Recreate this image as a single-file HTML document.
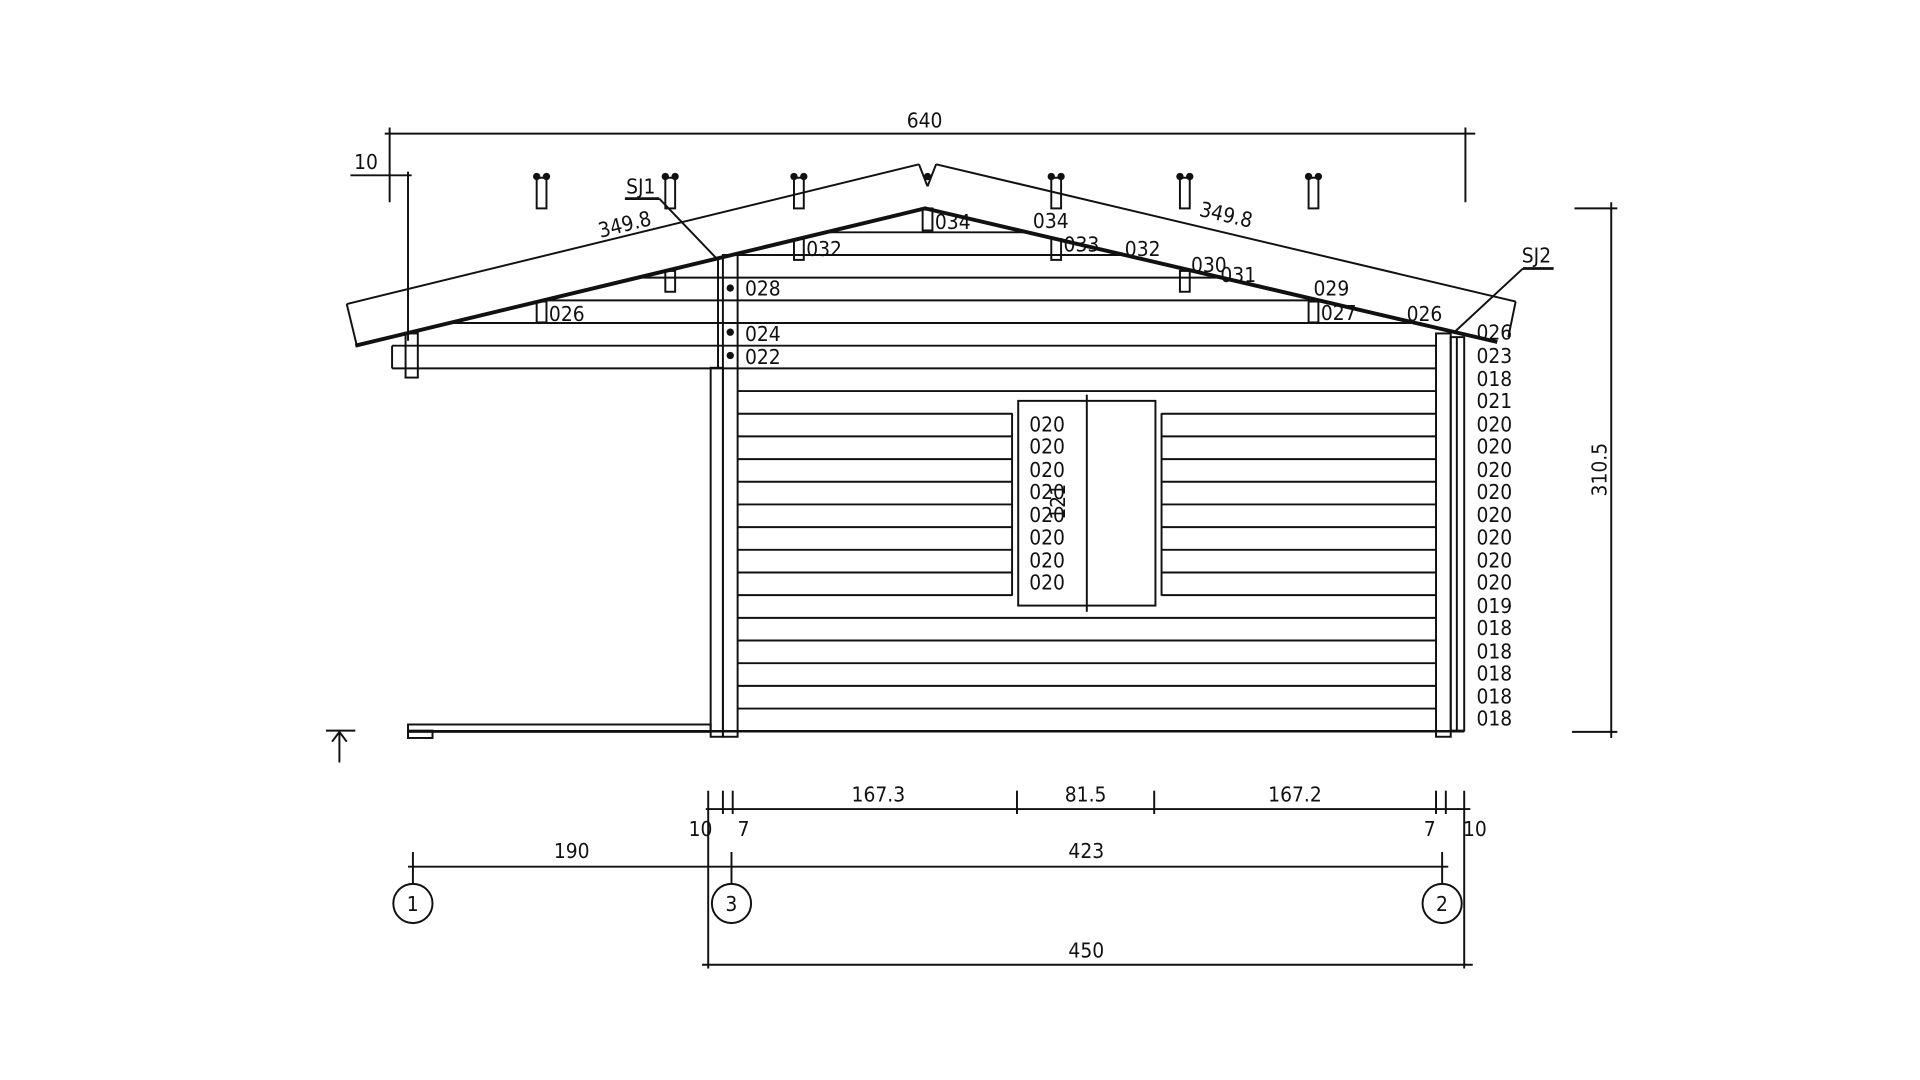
<!DOCTYPE html>
<html><head><meta charset="utf-8"><style>
html,body{margin:0;padding:0;background:#fff;width:1920px;height:1080px;overflow:hidden}
svg{display:block}
text{font-family:"DejaVu Sans Condensed","Liberation Sans Narrow","Liberation Sans",sans-serif;font-size:17px;fill:#111}
</style></head><body>
<svg width="1920" height="1080" viewBox="0 0 1567 881" preserveAspectRatio="none" xmlns="http://www.w3.org/2000/svg">
<g stroke="#111" stroke-width="1.6" fill="none">
<line x1="314" y1="109" x2="1204" y2="109"/>
<line x1="318" y1="104" x2="318" y2="165"/>
<line x1="1196" y1="104" x2="1196" y2="165"/>
<line x1="286" y1="143" x2="336" y2="143"/>
<line x1="333" y1="140" x2="333" y2="278"/>
<polyline points="283,248 750,134"/>
<polyline points="764,134 1237,246"/>
<line x1="750" y1="134" x2="757" y2="152"/><line x1="764" y1="134" x2="757" y2="152"/>
<line x1="283" y1="248" x2="291" y2="281"/>
<line x1="1237" y1="246" x2="1231" y2="275"/>
<polyline points="290,282 755,170 1222,279" stroke-width="3.2"/>
<line x1="755" y1="171" x2="760" y2="171"/>
<line x1="675" y1="189.5" x2="839" y2="189.5"/>
<line x1="597" y1="208" x2="919" y2="208"/>
<line x1="521" y1="226.5" x2="1000" y2="226.5"/>
<line x1="444" y1="245" x2="1080" y2="245"/>
<line x1="367" y1="263.5" x2="1160" y2="263.5"/>
<line x1="320" y1="282" x2="1172" y2="282"/>
<line x1="320" y1="300.5" x2="1172" y2="300.5"/>
<line x1="320" y1="282" x2="320" y2="300.5"/>
<line x1="602" y1="319" x2="1172" y2="319"/>
<g>
<line x1="602" y1="337.5" x2="826" y2="337.5"/><line x1="948" y1="337.5" x2="1172" y2="337.5"/>
<line x1="602" y1="356" x2="826" y2="356"/><line x1="948" y1="356" x2="1172" y2="356"/>
<line x1="602" y1="374.5" x2="826" y2="374.5"/><line x1="948" y1="374.5" x2="1172" y2="374.5"/>
<line x1="602" y1="393" x2="826" y2="393"/><line x1="948" y1="393" x2="1172" y2="393"/>
<line x1="602" y1="411.5" x2="826" y2="411.5"/><line x1="948" y1="411.5" x2="1172" y2="411.5"/>
<line x1="602" y1="430" x2="826" y2="430"/><line x1="948" y1="430" x2="1172" y2="430"/>
<line x1="602" y1="448.5" x2="826" y2="448.5"/><line x1="948" y1="448.5" x2="1172" y2="448.5"/>
<line x1="602" y1="467" x2="826" y2="467"/><line x1="948" y1="467" x2="1172" y2="467"/>
<line x1="602" y1="485.5" x2="826" y2="485.5"/><line x1="948" y1="485.5" x2="1172" y2="485.5"/>
</g>
<line x1="602" y1="504" x2="1172" y2="504"/>
<line x1="602" y1="522.5" x2="1172" y2="522.5"/>
<line x1="602" y1="541" x2="1172" y2="541"/>
<line x1="602" y1="559.5" x2="1172" y2="559.5"/>
<line x1="602" y1="578" x2="1172" y2="578"/>
<line x1="333" y1="596.5" x2="1195" y2="596.5" stroke-width="2"/>
<rect x="831" y="327" width="112" height="167"/>
<line x1="887" y1="322" x2="887" y2="499"/>
<line x1="826" y1="337" x2="826" y2="486"/><line x1="948" y1="337" x2="948" y2="486"/>
<rect x="580" y="300" width="10" height="301"/>
<rect x="590" y="208" width="12" height="393"/>
<line x1="586" y1="211" x2="586" y2="300"/>
<rect x="1172" y="272" width="12" height="329"/>
<rect x="1184" y="275" width="11" height="321"/>
<line x1="1189" y1="275" x2="1189" y2="596"/>
<rect x="333" y="591" width="247" height="6"/>
<rect x="333" y="596" width="20" height="6"/>
<rect x="331" y="272" width="10" height="36"/>
<rect x="438" y="246" width="8" height="17"/>
<rect x="543" y="221" width="8" height="17"/>
<rect x="648" y="195" width="8" height="17"/>
<rect x="753" y="170" width="8" height="18"/>
<rect x="858" y="195" width="8" height="17"/>
<rect x="963" y="221" width="8" height="17"/>
<rect x="1068" y="246" width="8" height="17"/>
<rect x="438" y="145" width="8" height="25"/>
<rect x="543" y="145" width="8" height="25"/>
<rect x="648" y="145" width="8" height="25"/>
<rect x="858" y="145" width="8" height="25"/>
<rect x="963" y="145" width="8" height="25"/>
<rect x="1068" y="145" width="8" height="25"/>
<line x1="510" y1="162" x2="538" y2="162" stroke-width="2.2"/>
<line x1="538" y1="162" x2="585" y2="211"/>
<line x1="1243" y1="219" x2="1268" y2="219" stroke-width="2.2"/>
<line x1="1243" y1="219" x2="1188" y2="270"/>
<line x1="1315" y1="165" x2="1315" y2="602"/>
<line x1="1285" y1="170" x2="1320" y2="170"/>
<line x1="1283" y1="597" x2="1320" y2="597"/>
<line x1="266" y1="596" x2="290" y2="596"/>
<line x1="277" y1="622" x2="277" y2="597"/>
<polyline points="271,605 277,597 283,605"/>
<line x1="576" y1="660" x2="1200" y2="660"/>
<line x1="578" y1="645" x2="578" y2="790"/>
<line x1="1195" y1="645" x2="1195" y2="790"/>
<line x1="590" y1="645" x2="590" y2="664"/><line x1="598" y1="645" x2="598" y2="664"/>
<line x1="830" y1="645" x2="830" y2="664"/><line x1="942" y1="645" x2="942" y2="664"/>
<line x1="1172" y1="645" x2="1172" y2="664"/><line x1="1180" y1="645" x2="1180" y2="664"/>
<line x1="333" y1="707" x2="1182" y2="707"/>
<line x1="337" y1="695" x2="337" y2="721"/><line x1="597" y1="695" x2="597" y2="721"/><line x1="1177" y1="695" x2="1177" y2="721"/>
<circle cx="337" cy="737" r="16"/><circle cx="597" cy="737" r="16"/><circle cx="1177" cy="737" r="16"/>
<line x1="573" y1="787" x2="1202" y2="787"/>
</g>
<g fill="#111">
<circle cx="438" cy="144" r="3"/><circle cx="446" cy="144" r="3"/>
<circle cx="543" cy="144" r="3"/><circle cx="551" cy="144" r="3"/>
<circle cx="648" cy="144" r="3"/><circle cx="656" cy="144" r="3"/>
<circle cx="858" cy="144" r="3"/><circle cx="866" cy="144" r="3"/>
<circle cx="963" cy="144" r="3"/><circle cx="971" cy="144" r="3"/>
<circle cx="1068" cy="144" r="3"/><circle cx="1076" cy="144" r="3"/>
<circle cx="757" cy="144" r="3"/>
<circle cx="596" cy="235" r="3"/><circle cx="596" cy="271" r="3"/><circle cx="596" cy="290" r="3"/>
</g>
<text x="740" y="104">640</text>
<text x="289" y="138">10</text>
<text x="511" y="158">SJ1</text>
<text x="1242" y="214">SJ2</text>
<text transform="translate(490,194) rotate(-14)">349.8</text>
<text transform="translate(978,176) rotate(13)">349.8</text>
<text x="448" y="262">026</text>
<text x="658" y="209">032</text>
<text x="608" y="241">028</text>
<text x="608" y="278">024</text>
<text x="608" y="297">022</text>
<text x="763" y="187">034</text>
<text x="843" y="186">034</text>
<text x="868" y="205">033</text>
<text x="918" y="209">032</text>
<text x="972" y="222">030</text>
<text x="996" y="230">031</text>
<text x="1072" y="241">029</text>
<text x="1078" y="261">027</text>
<text x="1148" y="262">026</text>
<g>
<text x="1205" y="277">026</text><text x="1205" y="296">023</text><text x="1205" y="315">018</text><text x="1205" y="333">021</text>
<text x="1205" y="352">020</text><text x="1205" y="370">020</text><text x="1205" y="389">020</text><text x="1205" y="407">020</text>
<text x="1205" y="426">020</text><text x="1205" y="444">020</text><text x="1205" y="463">020</text><text x="1205" y="481">020</text>
<text x="1205" y="500">019</text><text x="1205" y="518">018</text><text x="1205" y="537">018</text><text x="1205" y="555">018</text>
<text x="1205" y="574">018</text><text x="1205" y="592">018</text>
</g>
<g>
<text x="840" y="352">020</text><text x="840" y="370">020</text><text x="840" y="389">020</text><text x="840" y="407">020</text>
<text x="840" y="426">020</text><text x="840" y="444">020</text><text x="840" y="463">020</text><text x="840" y="481">020</text>
</g>
<text transform="translate(869,424) rotate(-90)">121</text>
<text transform="translate(1311,405) rotate(-90)">310.5</text>
<text x="695" y="654">167.3</text>
<text x="869" y="654">81.5</text>
<text x="1035" y="654">167.2</text>
<text x="562" y="682">10</text>
<text x="602" y="682">7</text>
<text x="1162" y="682">7</text>
<text x="1194" y="682">10</text>
<text x="452" y="700">190</text>
<text x="872" y="700">423</text>
<text x="872" y="781">450</text>
<text x="332" y="743">1</text>
<text x="592" y="743">3</text>
<text x="1172" y="743">2</text>
</svg>
</body></html>
